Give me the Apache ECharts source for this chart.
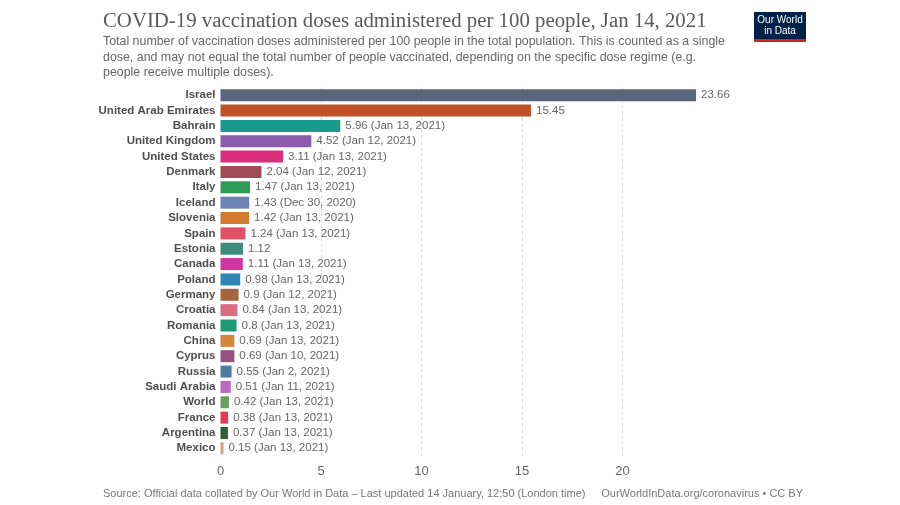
<!DOCTYPE html>
<html>
<head>
<meta charset="utf-8">
<script src="https://cdn.jsdelivr.net/npm/echarts@6/dist/echarts.min.js"></script>
<style>html,body{margin:0;padding:0;background:#fff}#c{width:900px;height:505px}</style>
</head>
<body>
<div id="c"></div>
<script>
const countries = ["Israel","United Arab Emirates","Bahrain","United Kingdom","United States","Denmark","Italy","Iceland","Slovenia","Spain","Estonia","Canada","Poland","Germany","Croatia","Romania","China","Cyprus","Russia","Saudi Arabia","World","France","Argentina","Mexico"];
const values = [23.66,15.45,5.96,4.52,3.11,2.04,1.47,1.43,1.42,1.24,1.12,1.11,0.98,0.9,0.84,0.8,0.69,0.69,0.55,0.51,0.42,0.38,0.37,0.15];
const dates = ["","","Jan 13, 2021","Jan 12, 2021","Jan 13, 2021","Jan 12, 2021","Jan 13, 2021","Dec 30, 2020","Jan 13, 2021","Jan 13, 2021","","Jan 13, 2021","Jan 13, 2021","Jan 12, 2021","Jan 13, 2021","Jan 13, 2021","Jan 13, 2021","Jan 10, 2021","Jan 2, 2021","Jan 11, 2021","Jan 13, 2021","Jan 13, 2021","Jan 13, 2021","Jan 13, 2021"];
const colors = ["#59657d","#c15027","#1a9a8c","#8c5bab","#db2d7b","#a14b59","#2e9b5b","#6a82b5","#d47b32","#e04f64","#3e8c7c","#d035a3","#2e86b5","#a5643e","#d96b83","#1d9a72","#d4873a","#9b4f7e","#4f7aa1","#bb69c0","#6d9e5f","#e23b55","#2f5f35","#c9a27e"];
const xTicks = [0,5,10,15,20];

const chart = echarts.init(document.getElementById('c'), null, {renderer:'canvas'});
const sans = "'Liberation Sans', Arial, sans-serif";
chart.setOption({
  animation:false,
  backgroundColor:'#fff',
  title:[{
    text:'COVID-19 vaccination doses administered per 100 people, Jan 14, 2021',
    left:103, top:11, padding:0,
    textStyle:{fontFamily:"'Liberation Serif', serif", fontSize:20.8, fontWeight:'normal', color:'#5a5a5a'}
  },{
    text:'Total number of vaccination doses administered per 100 people in the total population. This is counted as a single\ndose, and may not equal the total number of people vaccinated, depending on the specific dose regime (e.g.\npeople receive multiple doses).',
    left:103, top:34, padding:0,
    textStyle:{fontFamily:sans, fontSize:12.4, fontWeight:'normal', color:'#666', lineHeight:15.5}
  },{
    text:'Source: Official data collated by Our World in Data – Last updated 14 January, 12:50 (London time)',
    left:103, top:488, padding:0,
    textStyle:{fontFamily:sans, fontSize:11, fontWeight:'normal', color:'#777'}
  },{
    text:'OurWorldInData.org/coronavirus • CC BY',
    right:97, top:488, padding:0,
    textStyle:{fontFamily:sans, fontSize:11, fontWeight:'normal', color:'#777'}
  }],
  graphic:[{
    type:'group', left:754, top:12,
    children:[
      {type:'rect', shape:{x:0,y:0,width:52,height:30}, style:{fill:'#002147'}},
      {type:'rect', shape:{x:0,y:27,width:52,height:3}, style:{fill:'#ce261e'}},
      {type:'text', style:{x:26,y:13.5,text:'Our World\nin Data',fill:'#fff',font:"10px 'Liberation Sans', Arial, sans-serif",align:'center',verticalAlign:'middle',lineHeight:11}}
    ]
  }],
  grid:{left:220.5, top:87.5, width:502.5, height:368.5, containLabel:false},
  xAxis:{
    type:'value', min:0, max:25, interval:5,
    axisLine:{show:false}, axisTick:{show:false},
    axisLabel:{color:'#666', fontSize:13, fontFamily:sans, margin:9, showMaxLabel:false,
      formatter:v=> xTicks.indexOf(v)>=0 ? String(v) : ''},
    splitLine:{show:true, showMinLine:false, showMaxLine:false, lineStyle:{color:'#d8d8d8', type:[3,3], width:1}}
  },
  yAxis:{
    type:'category', data:countries, inverse:true,
    axisLine:{show:false}, axisTick:{show:false},
    axisLabel:{interval:0, color:'#4f4f4f', fontSize:11.5, fontWeight:'bold', fontFamily:sans, margin:5}
  },
  series:[{
    type:'bar',
    barWidth:12,
    data:values.map((v,i)=>({value:v, itemStyle:{color:colors[i]}})),
    label:{show:true, position:'right', distance:5, color:'#666', fontSize:11.5, fontFamily:sans,
      formatter:p=> dates[p.dataIndex] ? p.value + ' (' + dates[p.dataIndex] + ')' : String(p.value)}
  }]
});
</script>
</body>
</html>
